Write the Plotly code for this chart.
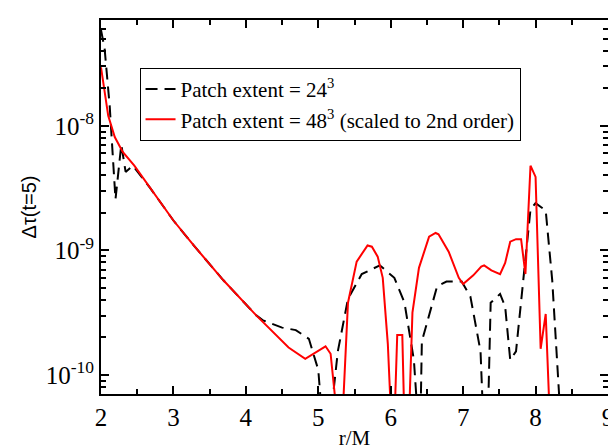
import plotly.graph_objects as go

# r/M and log10(delta tau)
r_24 = [2.0, 2.05, 2.12, 2.2, 2.28, 2.34, 2.44, 2.68, 3.0, 3.28, 3.69, 4.14, 4.23, 4.5, 4.69,
        4.87, 5.0, 5.06, 5.16, 5.27, 5.41, 5.6, 5.85, 6.05, 6.19, 6.32, 6.38, 6.41, 6.43, 6.64,
        6.77, 6.98, 7.1, 7.24, 7.28, 7.34, 7.38, 7.51, 7.58, 7.65, 7.73, 7.83, 7.93, 8.0, 8.14,
        8.23, 8.35]
lg_24 = [-7.23, -7.38, -7.84, -8.59, -8.15, -8.37, -8.32, -8.5, -8.76, -8.96, -9.24, -9.52, -9.56,
         -9.62, -9.64, -9.71, -9.96, -10.4, -10.4, -9.81, -9.39, -9.19, -9.12, -9.22, -9.42, -9.88,
         -10.4, -10.4, -9.73, -9.29, -9.25, -9.25, -9.37, -9.81, -10.4, -10.4, -9.42, -9.35,
         -9.45, -9.88, -9.81, -9.24, -8.67, -8.62, -8.68, -9.24, -10.4]

r_48 = [2.0, 2.05, 2.1, 2.19, 2.3, 2.46, 2.68, 3.0, 3.28, 3.69, 4.14, 4.59, 4.82, 5.1, 5.17, 5.27,
        5.33, 5.41, 5.53, 5.68, 5.74, 5.82, 5.89, 5.96, 6.01, 6.05, 6.09, 6.16, 6.19, 6.25, 6.3,
        6.39, 6.53, 6.62, 6.66, 6.8, 6.94, 7.0, 7.14, 7.25, 7.29, 7.39, 7.51, 7.58, 7.65, 7.73,
        7.8, 7.86, 7.93, 8.0, 8.07, 8.14, 8.2]
lg_48 = [-7.53, -7.71, -7.92, -8.09, -8.21, -8.32, -8.5, -8.76, -8.96, -9.24, -9.52, -9.78, -9.87,
         -9.77, -9.83, -10.4, -10.4, -9.42, -9.09, -8.96, -8.97, -9.05, -9.22, -9.75, -10.4,
         -10.4, -9.68, -9.68, -10.4, -10.4, -9.5, -9.14, -8.89, -8.86, -8.87, -9.01, -9.22,
         -9.27, -9.2, -9.13, -9.12, -9.16, -9.19, -9.1, -8.93, -8.91, -8.91, -9.19, -8.32,
         -8.41, -9.79, -9.51, -10.4]

y_ticks = [1e-10, 1e-9, 1e-8]
y_ticktext = ["10<sup>-10</sup>", "10<sup>-9</sup>", "10<sup>-8</sup>"]
y_minor = [m * 10.0 ** e for e in (-11, -10, -9, -8) for m in range(2, 10)]

font = "Liberation Serif"

fig = go.Figure()
fig.add_trace(go.Scatter(
    x=r_24, y=[10 ** v for v in lg_24], mode="lines",
    name="Patch extent = 24<sup>3</sup>",
    line=dict(color="black", width=2, dash="12px,7px"),
))
fig.add_trace(go.Scatter(
    x=r_48, y=[10 ** v for v in lg_48], mode="lines",
    name="Patch extent = 48<sup>3</sup> (scaled to 2nd order)",
    line=dict(color="#ff0000", width=2),
))

axis_common = dict(
    showline=True, linecolor="black", linewidth=2, mirror="ticks",
    ticks="inside", ticklen=8, tickwidth=1.5, tickcolor="black",
    showgrid=False, zeroline=False,
    tickfont=dict(family=font, size=25, color="black"),
)
fig.update_xaxes(
    range=[2, 9], dtick=1,
    title=dict(text="r/M", font=dict(family=font, size=21, color="black"), standoff=0),
    minor=dict(dtick=0.5, ticks="inside", ticklen=5, tickcolor="black"),
    **axis_common,
)
fig.update_yaxes(
    type="log", range=[-10.153, -7.15], tickvals=y_ticks, ticktext=y_ticktext,
    title=dict(text="Δτ(t=5)", font=dict(family="Liberation Sans", size=20, color="black"),
               standoff=4),
    minor=dict(tickvals=y_minor, ticks="inside", ticklen=5, tickcolor="black"),
    **axis_common,
)
fig.update_layout(
    width=616, height=448,
    margin=dict(l=93, r=10, t=10, b=46),
    plot_bgcolor="white", paper_bgcolor="white",
    legend=dict(
        x=0.076, y=0.872, xanchor="left", yanchor="top",
        bordercolor="black", borderwidth=1, bgcolor="white",
        font=dict(family=font, size=21, color="black"),
        tracegroupgap=0, itemwidth=30,
    ),
)

fig.write_html("out.html")
